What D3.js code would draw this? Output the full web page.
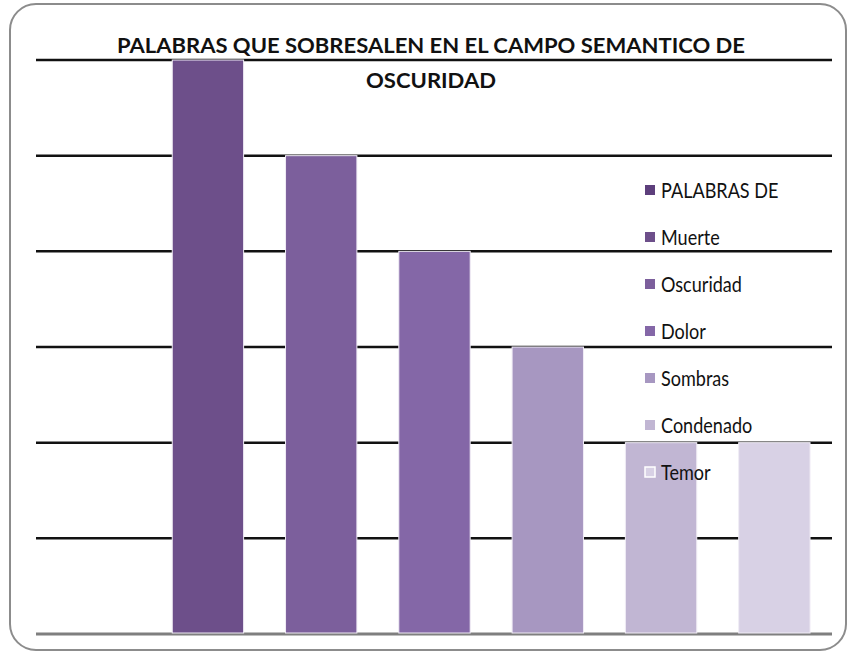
<!DOCTYPE html>
<html>
<head>
<meta charset="utf-8">
<script src="https://cdn.jsdelivr.net/npm/d3@7"></script>
<style>
  body { margin: 0; background: #fff; }
  svg { display: block; }
</style>
</head>
<body>
<div id="chart"></div>
<script>
// --- Data ---
const titleLines = ["PALABRAS QUE SOBRESALEN EN EL CAMPO SEMANTICO DE", "OSCURIDAD"];
const series = ["PALABRAS DE", "Muerte", "Oscuridad", "Dolor", "Sombras", "Condenado", "Temor"];
const values = [0, 6, 5, 4, 3, 2, 2];
const colors = ["#5d3f7c", "#6d4f8a", "#7c5f9c", "#8467a7", "#a797c1", "#c1b6d3", "#d8d1e5"];
const gridTicks = [1, 2, 3, 4, 5, 6];

// --- Setup ---
const width = 848, height = 654;
const plot = { left: 36, right: 832, top: 60, bottom: 634 };

const svg = d3.select("#chart").append("svg")
  .attr("width", width)
  .attr("height", height);

// Chart frame
svg.append("rect")
  .attr("x", 10).attr("y", 4)
  .attr("width", 836).attr("height", 646)
  .attr("rx", 26).attr("ry", 26)
  .attr("fill", "#fff")
  .attr("stroke", "#8c8c8c")
  .attr("stroke-width", 2);

const x = d3.scaleBand()
  .domain(series)
  .range([38, 831])
  .paddingInner(0.37)
  .paddingOuter(0.185);

const y = d3.scaleLinear()
  .domain([0, 6])
  .range([plot.bottom, plot.top]);

// Gridlines
svg.append("g")
  .selectAll("line")
  .data(gridTicks)
  .join("line")
  .attr("x1", plot.left)
  .attr("x2", plot.right)
  .attr("y1", d => y(d))
  .attr("y2", d => y(d))
  .attr("stroke", "#111")
  .attr("stroke-width", 2.5);

// Baseline
svg.append("line")
  .attr("x1", plot.left).attr("x2", plot.right)
  .attr("y1", y(0)).attr("y2", y(0))
  .attr("stroke", "#7f7f7f")
  .attr("stroke-width", 3);

// Bars
svg.append("g")
  .selectAll("rect")
  .data(series)
  .join("rect")
  .attr("x", d => x(d))
  .attr("y", (d, i) => y(values[i]))
  .attr("width", x.bandwidth())
  .attr("height", (d, i) => y(0) - y(values[i]) - 1)
  .attr("fill", (d, i) => colors[i])
  .attr("stroke", "#f0ecf5")
  .attr("stroke-width", 1);

// Title
svg.append("g")
  .selectAll("text")
  .data(titleLines)
  .join("text")
  .attr("x", 431)
  .attr("y", (d, i) => 53 + i * 35)
  .attr("text-anchor", "middle")
  .attr("font-family", "Lato, 'Open Sans', sans-serif")
  .attr("font-weight", "bold")
  .attr("font-size", 21)
  .attr("fill", "#111")
  .attr("textLength", (d, i) => i === 0 ? 628 : 130)
  .attr("lengthAdjust", "spacingAndGlyphs")
  .text(d => d);

// Legend
const legend = svg.append("g")
  .selectAll("g")
  .data(series)
  .join("g")
  .attr("transform", (d, i) => `translate(645, ${190 + i * 47})`);

legend.append("rect")
  .attr("x", 0).attr("y", -5)
  .attr("width", 10).attr("height", 10)
  .attr("fill", (d, i) => colors[i])
  .attr("stroke", (d, i) => i === series.length - 1 ? "#fff" : "none")
  .attr("stroke-width", 1.5);

legend.append("text")
  .attr("transform", "translate(16,0) scale(0.86,1)")
  .attr("dy", "0.36em")
  .attr("font-family", "Lato, 'Open Sans', sans-serif")
  .attr("font-size", 21)
  .attr("fill", "#111")
  .text(d => d);
</script>
</body>
</html>
